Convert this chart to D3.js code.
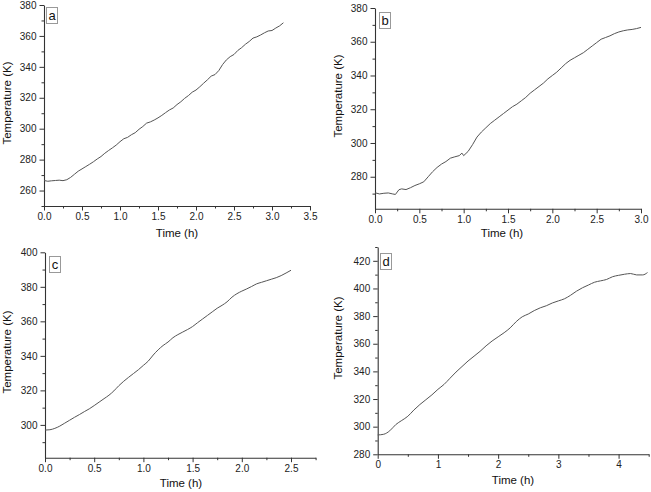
<!DOCTYPE html>
<html><head><meta charset="utf-8">
<script src="https://cdn.jsdelivr.net/npm/d3@7"></script>
<style>
html,body{margin:0;padding:0;background:#fff;}
svg{display:block;font-family:"Liberation Sans",Arial,sans-serif;}
</style></head>
<body>
<svg id="c" width="651" height="492"></svg>
<script>
// ---- data ----
const panelLetters = ["a","b","c","d"];
const xTitle = "Time (h)";
const yTitle = "Temperature (K)";

const timeA = [0.00,0.05,0.10,0.15,0.20,0.25,0.30,0.35,0.40,0.45,0.50,0.55,0.60,0.65,0.70,0.75,0.80,0.85,0.90,0.95,1.00,1.05,1.10,1.15,1.20,1.25,1.30,1.35,1.40,1.45,1.50,1.55,1.60,1.65,1.70,1.75,1.80,1.85,1.90,1.95,2.00,2.05,2.10,2.15,2.20,2.25,2.30,2.35,2.40,2.45,2.50,2.55,2.60,2.65,2.70,2.75,2.80,2.85,2.90,2.95,3.00,3.05,3.10,3.15];
const tempA = [266.5,266.0,266.3,266.5,266.7,266.4,267.0,268.5,270.5,272.5,274.0,275.5,277.0,278.6,280.4,282.0,284.1,285.9,287.6,289.4,291.6,293.5,294.4,296.1,297.4,299.6,301.4,303.6,304.4,305.6,307.0,308.6,310.4,312.1,313.4,315.6,317.4,319.6,321.4,323.6,325.0,327.1,329.4,331.6,334.0,335.0,337.6,341.5,344.5,346.6,348.0,350.6,352.4,354.6,356.4,358.6,359.4,360.6,362.0,363.2,363.5,365.1,366.5,368.5];

const timeB = [0.00,0.05,0.10,0.15,0.20,0.23,0.27,0.30,0.35,0.40,0.45,0.50,0.55,0.60,0.65,0.70,0.75,0.80,0.85,0.90,0.95,0.98,1.00,1.05,1.10,1.15,1.20,1.25,1.30,1.35,1.40,1.45,1.50,1.55,1.60,1.65,1.70,1.75,1.80,1.85,1.90,1.95,2.00,2.05,2.10,2.15,2.20,2.25,2.30,2.35,2.40,2.45,2.50,2.55,2.60,2.65,2.70,2.75,2.80,2.85,2.90,2.95,3.00];
const tempB = [270.5,269.8,270.2,270.4,269.8,269.5,272.3,272.8,272.4,273.5,274.8,275.8,277.0,280.0,283.0,285.5,287.5,289.0,291.0,291.8,292.5,294.0,292.5,295.0,299.0,303.5,306.5,309.0,311.5,313.5,315.5,317.5,319.5,321.5,323.0,325.0,327.0,329.5,331.5,333.5,335.5,338.0,340.0,342.0,344.5,347.0,349.0,350.5,352.0,353.5,355.5,357.5,359.5,361.5,362.5,363.5,364.8,365.8,366.5,367.0,367.3,367.8,368.5];

const timeC = [0.00,0.05,0.10,0.15,0.20,0.25,0.30,0.35,0.40,0.45,0.50,0.55,0.60,0.65,0.70,0.75,0.80,0.85,0.90,0.95,1.00,1.05,1.10,1.15,1.20,1.25,1.30,1.35,1.40,1.45,1.50,1.55,1.60,1.65,1.70,1.75,1.80,1.85,1.90,1.95,2.00,2.05,2.10,2.15,2.20,2.25,2.30,2.35,2.40,2.45,2.50];
const tempC = [297.0,297.2,298.0,299.3,301.0,302.7,304.4,306.0,307.7,309.3,311.2,313.2,315.2,317.2,319.7,322.7,325.3,327.6,329.8,332.0,334.5,337.0,340.5,343.5,346.0,348.0,350.5,352.3,353.8,355.3,357.0,359.2,361.3,363.4,365.5,367.6,369.3,371.3,374.0,376.0,377.5,378.8,380.2,381.7,382.6,383.5,384.4,385.3,386.5,388.0,389.6];

const timeD = [0.00,0.10,0.20,0.30,0.40,0.50,0.60,0.70,0.80,0.90,1.00,1.10,1.20,1.30,1.40,1.50,1.60,1.70,1.80,1.90,2.00,2.10,2.20,2.30,2.40,2.50,2.60,2.70,2.80,2.90,3.00,3.10,3.20,3.30,3.40,3.50,3.60,3.70,3.80,3.90,4.00,4.10,4.20,4.30,4.40,4.48];
const tempD = [294.0,294.5,297.0,301.5,304.5,307.5,312.0,316.0,319.5,323.0,327.0,330.5,335.0,339.5,343.5,347.5,351.0,354.5,358.5,362.0,365.0,368.0,371.5,376.0,379.5,381.5,384.0,386.0,387.5,389.5,391.0,392.5,395.0,398.0,400.5,402.5,404.5,405.5,406.5,408.5,409.5,410.3,410.8,409.8,409.8,411.5];

// axis domains & tick labels
const xDomains = [[0,3.5],[0,3.0],[0,2.75],[0,4.5]];
const yDomains = [[250,380],[261,380],[281,400],[280,430]];
const xMajorTicks = [[0,0.5,1,1.5,2,2.5,3,3.5],[0,0.5,1,1.5,2,2.5,3],[0,0.5,1,1.5,2,2.5],[0,1,2,3,4]];
const xMinorTicks = [[0.25,0.75,1.25,1.75,2.25,2.75,3.25],[0.25,0.75,1.25,1.75,2.25,2.75],[0.25,0.75,1.25,1.75,2.25,2.75],[0.5,1.5,2.5,3.5,4.5]];
const yMajorTicks = [[260,280,300,320,340,360,380],[280,300,320,340,360,380],[300,320,340,360,380,400],[280,300,320,340,360,380,400,420]];
const yMinorTicks = [[250,270,290,310,330,350,370],[270,290,310,330,350,370],[290,310,330,350,370,390],[290,310,330,350,370,390,410,430]];
const xFormats = [".1f",".1f",".1f","d"];

const series = [
  {t:timeA, v:tempA},
  {t:timeB, v:tempB},
  {t:timeC, v:tempC},
  {t:timeD, v:tempD}
];

// ---- layout ----
const layout = [
  {x0:44,  x1:310,   yTop:5,     yBot:206,   ytx:7,   yty:103, xtx:177, xty:237, box:[46,7]},
  {x0:375, x1:641,   yTop:8,     yBot:208.8, ytx:338, yty:96,  xtx:502, xty:237, box:[379,12]},
  {x0:45,  x1:315.6, yTop:252.3, yBot:457.7, ytx:7,   yty:352, xtx:181, xty:487, box:[49,256]},
  {x0:377.7,x1:648.7,yTop:247,   yBot:454.3, ytx:338, yty:338, xtx:513, xty:484, box:[380,253]}
];

const svg = d3.select("#c");
const axisColor = "#333";
const lineColor = "#555";

series.forEach((s, i) => {
  const L = layout[i];
  const x = d3.scaleLinear().domain(xDomains[i]).range([L.x0, L.x1]);
  const y = d3.scaleLinear().domain(yDomains[i]).range([L.yBot, L.yTop]);
  const g = svg.append("g");

  // minor ticks
  const xMin = g.append("g").attr("transform", `translate(0,${L.yBot})`)
    .call(d3.axisBottom(x).tickValues(xMinorTicks[i]).tickSize(2.5).tickFormat(""));
  const yMin = g.append("g").attr("transform", `translate(${L.x0},0)`)
    .call(d3.axisLeft(y).tickValues(yMinorTicks[i]).tickSize(2.5).tickFormat(""));
  // major ticks
  const xAx = g.append("g").attr("transform", `translate(0,${L.yBot})`)
    .call(d3.axisBottom(x).tickValues(xMajorTicks[i]).tickSize(4.5).tickPadding(2.5).tickFormat(d3.format(xFormats[i])).tickSizeOuter(0));
  const yAx = g.append("g").attr("transform", `translate(${L.x0},0)`)
    .call(d3.axisLeft(y).tickValues(yMajorTicks[i]).tickSize(4.5).tickPadding(3).tickFormat(d3.format("d")).tickSizeOuter(0));
  [xMin, yMin, xAx, yAx].forEach(a => {
    a.selectAll("path").attr("stroke", axisColor).attr("stroke-width", 1.1);
    a.selectAll("line").attr("stroke", axisColor).attr("stroke-width", 1);
    a.selectAll("text").attr("fill", "#222").style("font-size", "10px")
      .style("font-family", '"Liberation Sans",Arial,sans-serif');
  });
  xMin.select("path").remove(); yMin.select("path").remove();

  // line
  const pts = s.t.map((t, k) => [t, s.v[k]]);
  g.append("path").datum(pts)
    .attr("fill", "none").attr("stroke", lineColor).attr("stroke-width", 1)
    .attr("d", d3.line().x(d => x(d[0])).y(d => y(d[1])).curve(i >= 2 ? d3.curveMonotoneX : d3.curveLinear));

  // titles
  g.append("text").attr("x", L.xtx).attr("y", L.xty).attr("text-anchor", "middle")
    .style("font-size", "11.5px").attr("fill", "#111").text(xTitle);
  g.append("text").attr("transform", `translate(${L.ytx + 4},${L.yty}) rotate(-90)`)
    .attr("text-anchor", "middle").style("font-size", "11.5px").attr("fill", "#111").text(yTitle);

  // panel letter box
  g.append("rect").attr("x", L.box[0] + 0.5).attr("y", L.box[1] + 0.5).attr("width", 11).attr("height", 16)
    .attr("fill", "#fff").attr("stroke", "#999").attr("stroke-width", 1);
  g.append("text").attr("x", L.box[0] + 6).attr("y", L.box[1] + 13).attr("text-anchor", "middle")
    .style("font-size", "13px").attr("fill", "#111").text(panelLetters[i]);
});
</script>
</body></html>
